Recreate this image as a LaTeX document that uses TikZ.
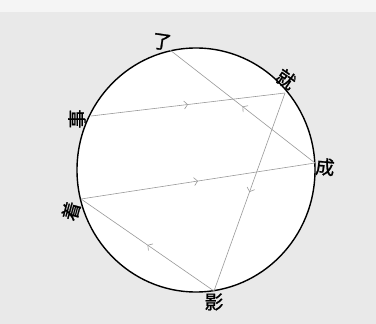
\documentclass[tikz,border=0pt]{standalone}
\usepackage{fontspec}
\newfontfamily\cjk{Noto Sans CJK SC}[FakeBold=1.2]
\usetikzlibrary{decorations.markings,arrows.meta}
\tikzset{
  chord/.style={draw=gray!80, line width=0.6pt, postaction={decorate},
    decoration={markings, mark=at position 0.5 with {\arrow[gray!80, line width=0.6pt]{Straight Barb[length=3.5pt,width=8pt]}}}},
  lab/.style={font=\cjk\fontsize{19}{19}\selectfont, inner sep=0pt, text=black}
}
\begin{document}
\begin{tikzpicture}[x=1pt,y=-1pt]
\useasboundingbox (0,0) rectangle (376,324);
\fill[gray!17] (0,0) rectangle (376,324);
\fill[gray!8] (0,0) rectangle (376,12);
\draw[black, line width=1.4pt, fill=white] (196,170) ellipse (119 and 122);
% endpoints on the circle
\coordinate (pLe) at (170,50);
\coordinate (pJiu) at (285,93);
\coordinate (pCheng) at (315,163);
\coordinate (pYing) at (214,291);
\coordinate (pZhe) at (81,199);
\coordinate (pShi) at (91,116);
% chords
\draw[chord] (pShi) -- (pJiu);
\draw[chord] (pJiu) -- (pYing);
\draw[chord] (pYing) -- (pZhe);
\draw[chord] (pZhe) -- (pCheng);
\draw[chord] (pCheng) -- (pLe);
% labels
\node[lab, rotate=-8] (le) at (162,42) {了};
\node[lab, rotate=-35] (jiu) at (286,79) {就};
\node[lab, rotate=-5] (cheng) at (325,167) {成};
\node[lab] (ying) at (214,302) {影};
\node[lab, rotate=75] (zhe) at (71,211) {着};
\node[lab, rotate=90] (shi) at (77,119) {事};
\end{tikzpicture}
\end{document}
